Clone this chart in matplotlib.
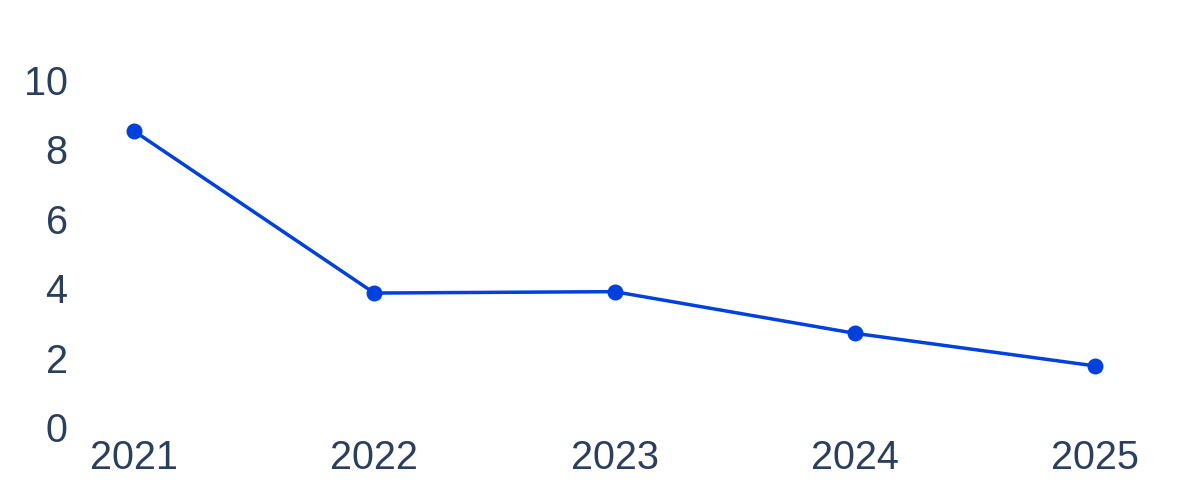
import matplotlib.pyplot as plt

years = [2021, 2022, 2023, 2024, 2025]
values = [8.53, 3.86, 3.9, 2.7, 1.76]
yticks = [0, 2, 4, 6, 8, 10]

plt.rcParams['font.family'] = ['Liberation Sans', 'DejaVu Sans']
text_color = '#2a3f5f'
line_color = '#0040dd'

fig = plt.figure(figsize=(12, 5), dpi=100)
ax = fig.add_axes([0.08, 0.12, 0.87, 0.76])

ax.plot(years, values, color=line_color, linewidth=2.5, marker='o',
        markersize=11.5, markeredgewidth=0)

ax.set_xlim(2020.842, 2025.187)
ax.set_ylim(-0.375, 10.576)
ax.set_xticks(years)
ax.set_xticklabels([str(y) for y in years])
ax.set_yticks(yticks)

ax.tick_params(axis='both', length=0, labelsize=28.5, labelcolor=text_color)
ax.tick_params(axis='y', pad=20.5)
ax.tick_params(axis='x', pad=-1)
for s in ax.spines.values():
    s.set_visible(False)

fig.savefig('out.png', dpi=100)
